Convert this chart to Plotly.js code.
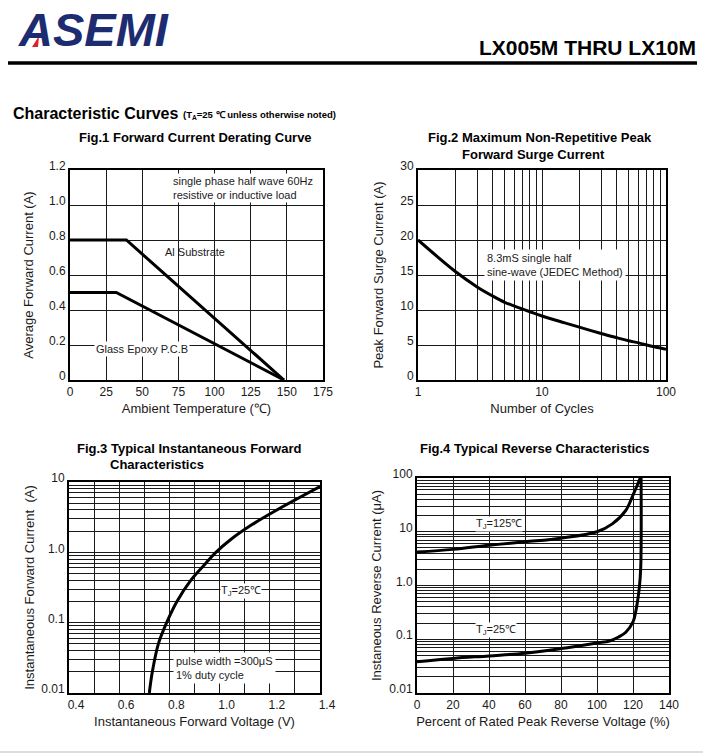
<!DOCTYPE html>
<html><head><meta charset="utf-8">
<script src="https://cdn.plot.ly/plotly-3.0.1.min.js"></script>
<style>html,body{margin:0;padding:0;background:#fff;overflow:hidden;} #chart{width:703px;height:754px;}</style>
</head><body><div id="chart"></div>
<script>
const W = 703, H = 754;
const px = x => x / W;
const py = y => 1 - y / H;

// ---- Fig.1 Forward Current Derating Curve ----
const fig1TempAl = [0, 39, 148];
const fig1CurrAl = [0.8, 0.8, 0];
const fig1TempGlass = [0, 32, 148];
const fig1CurrGlass = [0.5, 0.5, 0];
const fig1XTicks = [0, 25, 50, 75, 100, 125, 150, 175];
const fig1YTicks = [0, 0.2, 0.4, 0.6, 0.8, 1.0, 1.2];
const fig1YText = ['0', '0.2', '0.4', '0.6', '0.8', '1.0', '1.2'];

// ---- Fig.2 Maximum Non-Repetitive Peak Forward Surge Current ----
const fig2Cycles = [1, 2, 3, 4, 5, 6, 8, 10, 15, 20, 30, 40, 50, 60, 80, 100];
const fig2Surge = [20, 15.5, 13.3, 12.0, 11.1, 10.55, 9.75, 9.15, 8.2, 7.55, 6.65, 6.05, 5.6, 5.3, 4.75, 4.4];
const fig2XTicks = [1, 10, 100];
const fig2XText = ['1', '10', '100'];
const fig2YTicks = [0, 5, 10, 15, 20, 25, 30];

// ---- Fig.3 Typical Instantaneous Forward Characteristics ----
const fig3Vf = [0.72, 0.732, 0.756, 0.789, 0.83, 0.885, 0.945, 0.985, 1.042, 1.131, 1.228, 1.4];
const fig3If = [0.01, 0.02, 0.05, 0.1, 0.2, 0.4, 0.7, 1.0, 1.5, 2.5, 4.0, 8.6];
const fig3XTicks = [0.4, 0.6, 0.8, 1.0, 1.2, 1.4];
const fig3XText = ['0.4', '0.6', '0.8', '1.0', '1.2', '1.4'];
const fig3YTicks = [0.01, 0.1, 1, 10];
const fig3YText = ['0.01', '0.1', '1.0', '10'];

// ---- Fig.4 Typical Reverse Characteristics ----
const fig4Pct125 = [0, 20, 40, 60, 80, 100, 108.5, 116, 120.4, 122.5, 124];
const fig4Ir125 = [4.2, 4.7, 5.6, 6.5, 7.6, 10, 14, 25, 52, 75, 100];
const fig4Pct25 = [0, 20, 40, 60, 80, 100, 107, 112, 116, 120, 122, 123.5, 124.3, 124.5];
const fig4Ir25 = [0.038, 0.044, 0.049, 0.055, 0.067, 0.085, 0.093, 0.11, 0.135, 0.21, 0.4, 0.9, 2.2, 100];
const fig4XTicks = [0, 20, 40, 60, 80, 100, 120, 140];
const fig4YTicks = [0.01, 0.1, 1, 10, 100];
const fig4YText = ['0.01', '0.1', '1.0', '10', '100'];

const FONT = 'Liberation Sans, Arial, sans-serif';
const INK = '#1a1a1a';
const GRID = '#1a1a1a';

const curve = (x, y, xa, ya, shape) => ({
  x, y, xaxis: xa, yaxis: ya, type: 'scatter', mode: 'lines',
  line: {color: '#000', width: 3, shape: shape || 'linear', smoothing: 1},
  hoverinfo: 'skip', showlegend: false
});

const traces = [
  curve(fig1TempAl, fig1CurrAl, 'x', 'y'),
  curve(fig1TempGlass, fig1CurrGlass, 'x', 'y'),
  curve(fig2Cycles, fig2Surge, 'x2', 'y2', 'spline'),
  curve(fig3Vf, fig3If, 'x3', 'y3', 'spline'),
  curve(fig4Pct125, fig4Ir125, 'x4', 'y4', 'spline'),
  curve(fig4Pct25, fig4Ir25, 'x4', 'y4', 'spline')
];

const baseAxis = {
  showgrid: true, gridcolor: GRID, gridwidth: 1,
  showline: true, linecolor: '#000', linewidth: 2, mirror: true,
  zeroline: false, ticks: '', fixedrange: true,
  tickfont: {family: FONT, size: 12, color: INK},
  automargin: false
};
const ax = o => Object.assign({}, baseAxis, o);
const ttl = (t, s) => ({text: t, font: {family: FONT, size: 13, color: INK}, standoff: s});

const top1 = 170, bot1 = 380, top2 = 482, bot2 = 693;

const layout = {
  width: W, height: H,
  margin: {l: 0, r: 0, t: 0, b: 0, pad: 0},
  paper_bgcolor: '#fff', plot_bgcolor: '#fff',
  font: {family: FONT, color: INK},
  showlegend: false,
  xaxis: ax({domain: [px(70), px(323)], range: [0, 175], anchor: 'y',
    tickmode: 'array', tickvals: fig1XTicks, title: ttl('Ambient Temperature (℃)', 5)}),
  yaxis: ax({domain: [py(bot1), py(top1)], range: [0, 1.2], anchor: 'x',
    tickmode: 'array', tickvals: fig1YTicks, ticktext: fig1YText, ticklabelshift: -4,
    title: ttl('Average Forward Current (A)', 12)}),
  xaxis2: ax({domain: [px(418), px(666)], type: 'log', range: [0, 2], anchor: 'y2',
    tickmode: 'array', tickvals: fig2XTicks, ticktext: fig2XText,
    minor: {dtick: 'D1', showgrid: true, gridcolor: GRID, gridwidth: 1, ticks: ''},
    title: ttl('Number of Cycles', 5)}),
  yaxis2: ax({domain: [py(bot1), py(top1)], range: [0, 30], anchor: 'x2',
    tickmode: 'array', tickvals: fig2YTicks, ticklabelshift: -4,
    title: ttl('Peak Forward Surge Current (A)', 14)}),
  xaxis3: ax({domain: [px(69), px(320)], range: [0.4, 1.4], anchor: 'y3',
    tickmode: 'array', tickvals: fig3XTicks, ticktext: fig3XText, ticklabelshift: 7,
    minor: {dtick: 0.1, showgrid: true, gridcolor: GRID, gridwidth: 1, ticks: ''},
    title: ttl('Instantaneous Forward Voltage (V)', 5)}),
  yaxis3: ax({domain: [py(bot2), py(top2)], type: 'log', range: [-2, 1], anchor: 'x3',
    tickmode: 'array', tickvals: fig3YTicks, ticktext: fig3YText, ticklabelshift: -4,
    minor: {dtick: 'D1', showgrid: true, gridcolor: GRID, gridwidth: 1, ticks: ''},
    title: ttl('Instantaneous Forward Current  (A)', 4)}),
  xaxis4: ax({domain: [px(417), px(669)], range: [0, 140], anchor: 'y4',
    tickmode: 'array', tickvals: fig4XTicks,
    title: ttl('Percent of Rated Peak Reverse Voltage (%)', 5)}),
  yaxis4: ax({domain: [py(bot2), py(478)], type: 'log', range: [-2, 2], anchor: 'x4',
    tickmode: 'array', tickvals: fig4YTicks, ticktext: fig4YText, ticklabelshift: -4,
    minor: {dtick: 'D1', showgrid: true, gridcolor: GRID, gridwidth: 1, ticks: ''},
    title: ttl('Instaneous Reverse Current (μA)', 5)}),
  shapes: [
    {type: 'line', xref: 'paper', yref: 'paper', x0: px(8), x1: px(697), y0: py(63), y1: py(63),
      line: {color: '#000', width: 3.5}},
    {type: 'line', xref: 'paper', yref: 'paper', x0: 0, x1: 1, y0: py(752), y1: py(752),
      line: {color: '#dddddd', width: 2}}
  ],
  annotations: []
};

const A = (text, x, y, o) => Object.assign({
  text, xref: 'paper', yref: 'paper', x: px(x), y: py(y),
  xanchor: 'center', yanchor: 'middle', showarrow: false,
  font: {family: FONT, size: 11, color: INK}
}, o || {});

layout.annotations.push(
  A('<b><i>ASEMI</i></b>', 16, 30, {xanchor: 'left', font: {family: FONT, size: 47, color: '#1d2b70'}}),
  A('<b>LX005M THRU LX10M</b>', 698, 47.5, {xanchor: 'right', font: {family: FONT, size: 21, color: '#000'}}),
  A('<b>Characteristic Curves</b>', 11, 113, {xanchor: 'left', font: {family: FONT, size: 16, color: '#000'}}),
  A('<b>(T<sub>A</sub>=25 ℃ unless otherwise noted)</b>', 181, 114.5, {xanchor: 'left', font: {family: FONT, size: 9.5, color: '#000'}}),
  A('<b>Fig.1 Forward Current Derating Curve</b>', 195, 137, {font: {family: FONT, size: 13, color: '#000'}}),
  A('<b>Fig.2 Maximum Non-Repetitive Peak</b>', 540, 137, {font: {family: FONT, size: 13, color: '#000'}}),
  A('<b>Forward Surge Current</b>', 533, 154, {font: {family: FONT, size: 13, color: '#000'}}),
  A('<b>Fig.3 Typical Instantaneous Forward</b>', 189, 449, {font: {family: FONT, size: 13, color: '#000'}}),
  A('<b>Characteristics</b>', 108, 464, {xanchor: 'left', font: {family: FONT, size: 13, color: '#000'}}),
  A('<b>Fig.4 Typical Reverse Characteristics</b>', 535, 449, {font: {family: FONT, size: 13, color: '#000'}}),
  // in-plot notes
  A('single phase half wave 60Hz<br>resistive or inductive load', 171, 188, {xanchor: 'left', align: 'left', bgcolor: '#fff', borderpad: 1}),
  A('Al Substrate', 195, 252),
  A('Glass Epoxy P.C.B', 142, 349, {bgcolor: '#fff', borderpad: 1}),
  A('8.3mS single half<br>sine-wave (JEDEC Method)', 484, 264.5, {xanchor: 'left', align: 'left', bgcolor: '#fff', borderpad: 2}),
  A('T<sub>J</sub>=25℃', 241, 591, {bgcolor: '#fff', borderpad: 0}),
  A('pulse width =300μS<br>1% duty cycle', 173, 668, {xanchor: 'left', align: 'left', bgcolor: '#fff', borderpad: 2}),
  A('T<sub>J</sub>=125℃', 499, 524, {bgcolor: '#fff', borderpad: 0}),
  A('T<sub>J</sub>=25℃', 496, 630, {bgcolor: '#fff', borderpad: 0})
);

layout.shapes.push({
  type: 'path', xref: 'paper', yref: 'paper', fillcolor: '#d8232a', line: {width: 0},
  path: `M ${px(32)} ${py(47)} L ${px(38)} ${py(47)} L ${px(39)} ${py(36)} Z`
});

Plotly.newPlot('chart', traces, layout, {staticPlot: true, displayModeBar: false});
</script>
</body></html>
